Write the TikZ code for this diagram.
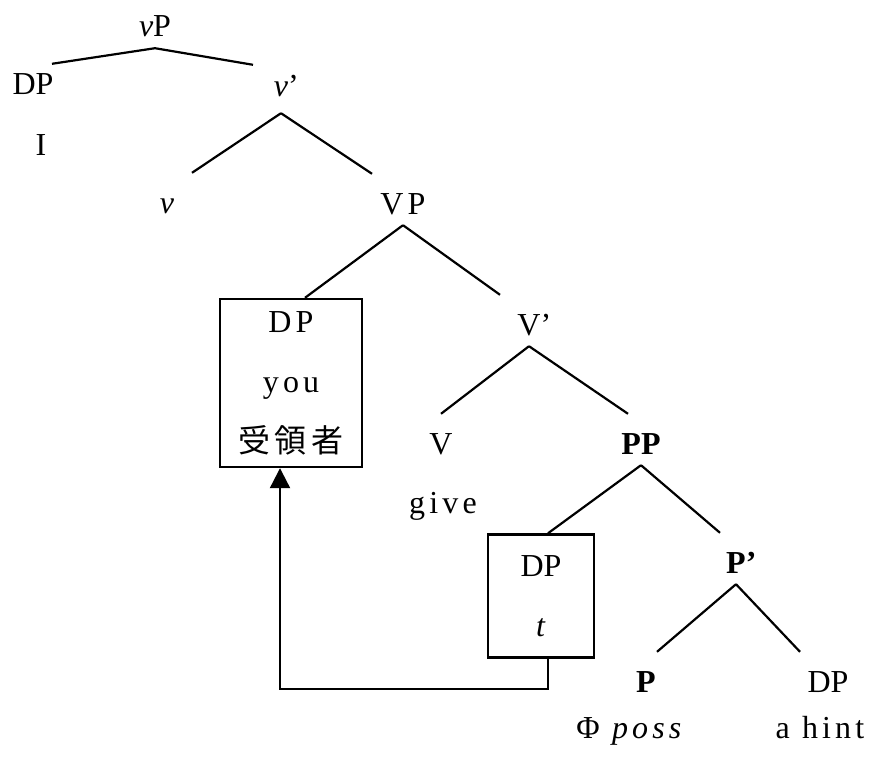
\documentclass[tikz,border=0pt]{standalone}
\usepackage{fontspec}
\setmainfont{Liberation Serif}
\newfontfamily\widefont{Liberation Serif}[LetterSpace=13]
\newfontfamily\jpfont{Noto Sans CJK JP}
\usetikzlibrary{arrows.meta}
\tikzset{
  cat/.style={
    inner sep=0pt,
    anchor=base,
    text height=40pt,
    text depth=11pt,
    font=\fontsize{32}{37}\selectfont
  },
  word/.style={
    inner sep=0pt,
    anchor=base,
    font=\fontsize{32}{37}\selectfont\widefont
  },
  movebox/.style={
    draw,
    line width=2.4pt,
    inner sep=0pt,
    align=center,
    font=\fontsize{32}{60}\selectfont
  },
  branch/.style={line width=2.2pt},
  movearrow/.style={-{Triangle[length=20pt,width=20pt]}, line width=2.2pt}
}

\begin{document}
\begin{tikzpicture}[x=1pt, y=-1pt]
  \useasboundingbox (0,0) rectangle (871,760);

  % vP shell
  \node[cat] (vP) at (155,37) {\textit{v}P};
  \node[cat, text height=31pt] (DPi) at (33,95) {DP};
  \node[word] (I) at (41,155) {I};
  \node[cat, text height=31pt, text depth=17pt] (vbar) at (281,96) {\textit{v}\rlap{’}};
  \node[cat] (v) at (167,213) {\textit{v}};
  \node[cat] (VP) at (403,214) {\widefont VP};

  % VP and PP
  \node[movebox, minimum width=142pt, minimum height=168pt] (recip) at (291,383)
    {{\widefont DP}\\{\widefont you}\\{\jpfont 受\kern5pt 領\kern5pt 者}};
  \node[cat] (Vbar) at (529,335) {V\rlap{’}};
  \node[cat] (V) at (441,454) {V};
  \node[word] (give) at (443,513) {give};
  \node[cat] (PP) at (641,454) {\bfseries PP};
  \node[movebox, minimum width=106pt, minimum height=123pt] (trace) at (541,596)
    {DP\\\textit{t}};
  \node[cat] (Pbar) at (736,573) {\bfseries P\rlap{’}};
  \node[cat] (P) at (646,692) {\bfseries P};
  \node[cat] (DPh) at (828,692) {DP};
  \node[word] (poss) at (631,738) {Φ \textit{poss}};
  \node[word] (hint) at (820,738) {a hint};

  \draw[branch] (vP.south) -- ([xshift=19pt]DPi.north);
  \draw[branch] (vP.south) -- ([xshift=-28pt]vbar.north);
  \draw[branch] (vbar.south) -- ([xshift=25pt]v.north);
  \draw[branch] (vbar.south) -- ([xshift=-31pt]VP.north);
  \draw[branch] (VP.south) -- ([xshift=14pt]recip.north);
  \draw[branch] (VP.south) -- ([xshift=-29pt]Vbar.north);
  \draw[branch] (Vbar.south) -- (V.north);
  \draw[branch] (Vbar.south) -- ([xshift=-13pt]PP.north);
  \draw[branch] (PP.south) -- ([xshift=7pt]trace.north);
  \draw[branch] (PP.south) -- ([xshift=-16pt]Pbar.north);
  \draw[branch] (Pbar.south) -- ([xshift=11pt]P.north);
  \draw[branch] (Pbar.south) -- ([xshift=-28pt]DPh.north);

  % movement of the recipient
  \draw[movearrow] ([xshift=7pt]trace.south) -- ++(0,30) -| ([xshift=-11pt]recip.south);
\end{tikzpicture}
\end{document}
